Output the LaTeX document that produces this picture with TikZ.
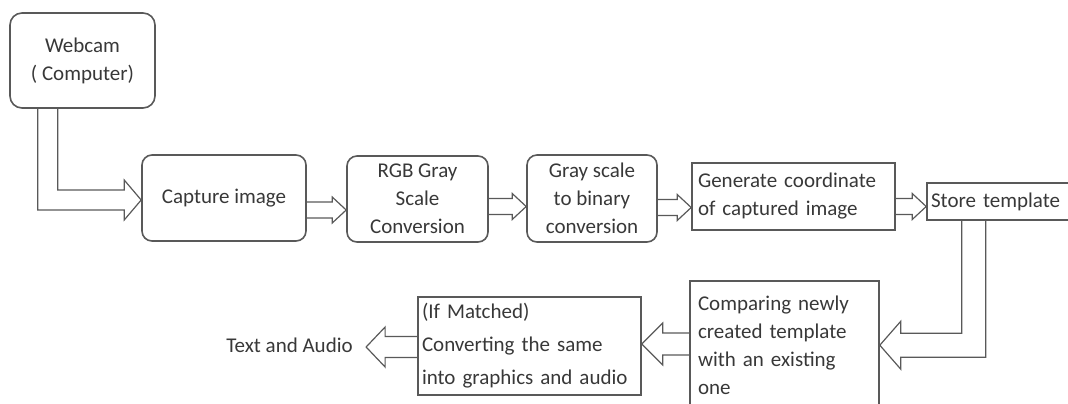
\documentclass[tikz,border=0pt]{standalone}
\usepackage{fontspec}
\setmainfont{Carlito}
\usepackage{tikz}
\usetikzlibrary{calc}

\definecolor{linea}{gray}{0.35}
\definecolor{texto}{gray}{0.22}

% medidas de la flecha gruesa: medio ancho, media cabeza, largo cabeza
\newcommand{\fatsize}[3]{\def\fsw{#1}\def\fhw{#2}\def\fhl{#3}}
% flecha gruesa horizontal: cola en #1, punta en #2
\newcommand{\fatarrow}[2]{%
    \draw[fatline] let \p1=(#1), \p2=(#2) in
        (\x1,\y2+\fsw) -- ({\x2-(\fhl)},\y2+\fsw) -- ({\x2-(\fhl)},\y2+\fhw) -- (\x2,\y2)
        -- ({\x2-(\fhl)},\y2-\fhw) -- ({\x2-(\fhl)},\y2-\fsw) -- (\x1,\y2-\fsw);}

\begin{document}
\begin{tikzpicture}[x=0.5pt, y=-0.5pt,
    every node/.style={text=texto, font=\fontsize{10.5}{14}\selectfont},
    roundbox/.style={draw=linea, line width=0.8pt, rounded corners=5pt, align=center},
    squarebox/.style={draw=linea, line width=0.8pt, align=left, inner xsep=3pt},
    fatline/.style={draw=linea, line width=0.6pt, line join=miter}]

    \useasboundingbox (0,0) rectangle (1068,403);

    % Cajas de la fila superior
    \node[roundbox, rounded corners=6pt, minimum width=72.5pt, minimum height=47.5pt]
        (webcam) at (82.5,60.5) {Webcam\\( Computer)};
    \node[roundbox, minimum width=82pt, minimum height=43pt]
        (capture) at (224,198) {Capture image};
    \node[roundbox, minimum width=70.5pt, minimum height=43pt]
        (rgb) at (417.5,199) {RGB Gray\\Scale\\Conversion};
    \node[roundbox, minimum width=65pt, minimum height=43.5pt]
        (gray) at (592,198.5) {Gray scale\\to binary\\conversion};
    \node[squarebox, text width=95.5pt, minimum height=33.5pt]
        (gen) at (793.5,196.5) {Generate coordinate\\of captured image};
    \node[squarebox, inner xsep=2pt, text width=72.5pt, minimum height=18.5pt]
        (store) at (1003.5,201.5) {Store template};

    % Cajas de la fila inferior
    \node[squarebox, inner xsep=4pt, text width=86.5pt, minimum height=64pt]
        (comparing) at (784.5,345) {Comparing newly\\created template\\with an existing\\one};
    \node[squarebox, inner xsep=2pt, text width=107.5pt, minimum height=49pt,
        font=\fontsize{10.5}{16.5}\selectfont]
        (matched) at (529.5,346) {(If Matched)\\Converting the same\\into graphics and audio};
    \node[inner xsep=6.5pt] (output) at (289.5,345) {Text and Audio};

    % Flecha: webcam -> capture
    \fatsize{5pt}{10pt}{8.5pt}
    \draw[fatline] let \p1=($(webcam.south west)+(38.5,0)$), \p2=($(capture.west)+(0,2)$) in
        (\x1+\fsw,\y1) -- (\x1+\fsw,\y2+\fsw) -- (\x2-\fhl,\y2+\fsw) -- (\x2-\fhl,\y2+\fhw)
        -- (\x2,\y2) -- (\x2-\fhl,\y2-\fhw) -- (\x2-\fhl,\y2-\fsw) -- (\x1-\fsw,\y2-\fsw)
        -- (\x1-\fsw,\y1);

    % Flechas de la fila superior
    \fatsize{4pt}{6.5pt}{7pt}
    \fatarrow{capture.east}{$(rgb.west)+(0,11)$}
    \fatarrow{rgb.east}{$(gray.west)+(0,8)$}
    \fatarrow{gray.east}{$(gen.west)+(0,11)$}
    \fatarrow{gen.east}{$(store.west)+(0,5)$}

    % Flecha: store -> comparing
    \fatsize{6pt}{12pt}{10.5pt}
    \draw[fatline] let \p1=($(store.south west)+(47.5,0)$), \p2=($(comparing.north east)+(0,65)$) in
        (\x1-\fsw,\y1) -- (\x1-\fsw,\y2+\fsw) -- (\x2+\fhl,\y2+\fsw) -- (\x2+\fhl,\y2+\fhw)
        -- (\x2,\y2) -- (\x2+\fhl,\y2-\fhw) -- (\x2+\fhl,\y2-\fsw) -- (\x1+\fsw,\y2-\fsw)
        -- (\x1+\fsw,\y1);

    % Flechas de la fila inferior
    \fatsize{5.5pt}{10.5pt}{-10.5pt}
    \fatarrow{comparing.west}{$(matched.east)+(0,-2)$}
    \fatsize{5.25pt}{10pt}{-9.5pt}
    \fatarrow{matched.west}{$(output.east |- matched.west)+(0,1)$}

\end{tikzpicture}
\end{document}
